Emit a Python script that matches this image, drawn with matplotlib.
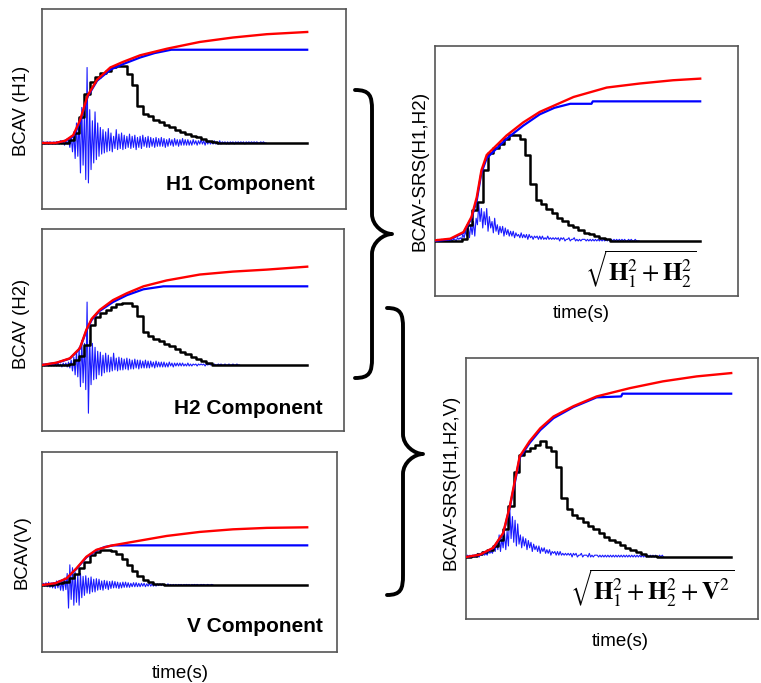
import numpy as np
import matplotlib
matplotlib.use("Agg")
import matplotlib.pyplot as plt
from matplotlib.path import Path
from matplotlib.patches import PathPatch

plt.rcParams['font.family'] = ['Liberation Sans', 'DejaVu Sans']
plt.rcParams['mathtext.fontset'] = 'stix'

# ---------------- data (normalised BCAV, time in s) ----------------
NOISE_DT = 0.2
BIN_DT = 0.8

# H1 component
h1_red_t = [0, 2.0, 3.5, 4.7, 5.7, 6.9, 8.3, 10.3, 12.2, 14.8, 18.9, 23.8, 28.8, 33.9, 40]
h1_red_v = [0, 0.0, 0.02, 0.07, 0.20, 0.43, 0.57, 0.68, 0.73, 0.79, 0.85, 0.91, 0.95, 0.98, 1.0]
h1_blue_t = [0, 2.0, 3.5, 4.7, 5.7, 6.9, 8.3, 10.3, 12.2, 14.8, 17.0, 19.5, 40]
h1_blue_v = [0, 0.0, 0.02, 0.06, 0.18, 0.42, 0.56, 0.66, 0.71, 0.77, 0.81, 0.84, 0.84]
h1_black = [0, 0, 0, 0, 0, 0.03, 0.09, 0.23, 0.44, 0.55, 0.59, 0.63, 0.65, 0.68, 0.69, 0.69,
            0.62, 0.52, 0.33, 0.26, 0.24, 0.21, 0.19, 0.16, 0.14, 0.12, 0.10, 0.08, 0.06,
            0.05, 0.04, 0.02, 0.01, 0]
h1_noise = [0, 1, -1, 0, 1, -1, 1, 0, -1, 1,
            -1, 1, 0, -1, 2, -1, 1, -2, 2, -1,
            3, -4, 6, -8, 10, -14, 18, -12, 22, -27,
            32, -20, 28, -33, 68, -36, 30, -24, 20, -18,
            28, -15, 18, -12, 14, -10, 12, -9, 10, -8,
            13, -7, 9, -8, 6, -5, 12, -6, 8, -5,
            9, -6, 7, -5, 6, -4, 8, -5, 6, -4,
            7, -6, 5, -4, 6, -5, 7, -3, 5, -4,
            6, -4, 5, -3, 4, -4, 5, -3, 4, -3,
            5, -3, 4, -4, 3, -3, 4, -2, 3, -3,
            4, -2, 3, -3, 3, -2, 4, -2, 3, -2,
            3, -2, 2, -2, 3, -1, 2, -2, 2, -1,
            3, -1, 2, -2, 2, -1, 2, -1, 1, -1,
            2, -1, 1, -1, 2, -1, 1, 0, 1, -1,
            1, -1, 1, 0, 1, -1, 1, 0, 1, 0,
            1, 0, 1, -1, 1, 0, 1, 0, 1, 0,
            1, 0, 1, 0, 0, 1, 0, 1, 0, 0]

# H2 component
h2_red_t = [0, 2.2, 4.2, 5.7, 6.7, 7.5, 8.7, 10.7, 12.8, 15.3, 18.8, 23.8, 28.8, 33.9, 40]
h2_red_v = [0, 0.024, 0.068, 0.17, 0.36, 0.47, 0.56, 0.66, 0.73, 0.80, 0.86, 0.92, 0.95, 0.97, 1.0]
h2_blue_t = [0, 2.2, 4.2, 5.7, 6.7, 7.5, 8.7, 10.7, 12.8, 15.3, 18.3, 40]
h2_blue_v = [0, 0.022, 0.065, 0.165, 0.35, 0.46, 0.55, 0.64, 0.71, 0.77, 0.80, 0.80]
h2_black = [0, 0, 0, 0, 0, 0.01, 0.05, 0.09, 0.20, 0.41, 0.49, 0.53, 0.56, 0.59, 0.62, 0.63,
            0.63, 0.60, 0.50, 0.34, 0.29, 0.26, 0.24, 0.21, 0.19, 0.16, 0.13, 0.11, 0.08,
            0.06, 0.04, 0.02, 0]
h2_noise = [0, 1, -1, 1, 0, -1, 1, -1, 1, -1,
            1, -1, 2, -1, 1, -2, 2, -1, 2, -2,
            3, -3, 5, -6, 8, -10, 14, -12, 18, -22,
            25, -18, 22, -25, 64, -49, 25, -20, 22, -15,
            18, -14, 14, -10, 13, -11, 10, -8, 12, -7,
            10, -7, 8, -6, 12, -5, 7, -6, 8, -5,
            7, -5, 6, -4, 7, -5, 6, -4, 5, -4,
            6, -3, 5, -4, 5, -3, 4, -3, 5, -3,
            4, -3, 4, -2, 3, -3, 4, -2, 3, -2,
            3, -2, 3, -2, 2, -2, 3, -1, 2, -2,
            2, -1, 2, -1, 2, -1, 2, -1, 1, -1,
            2, -1, 1, -1, 1, 0, 1, -1, 1, 0,
            1, 0, 1, -1, 1, 0, 1, 0, 1, 0,
            1, 0, 0, 1, 0, 1, 0, 0, 1, 0,
            0, 1, 0, 0, 1, 0, 0, 1, 0, 0]

# V component
v_red_t = [0, 2.0, 3.7, 5.2, 6.7, 8.2, 10.3, 13.8, 18.8, 23.8, 28.8, 33.9, 40]
v_red_v = [0, 0.03, 0.115, 0.29, 0.49, 0.61, 0.68, 0.75, 0.85, 0.92, 0.965, 0.99, 1.0]
v_blue_t = [0, 2.0, 3.7, 5.2, 6.7, 8.2, 9.5, 10.8, 40]
v_blue_v = [0, 0.03, 0.11, 0.28, 0.48, 0.60, 0.66, 0.687, 0.687]
v_black = [0, 0, 0.01, 0.03, 0.06, 0.12, 0.19, 0.29, 0.40, 0.52, 0.57, 0.60, 0.61, 0.59,
           0.53, 0.45, 0.35, 0.24, 0.15, 0.08, 0.05, 0.02, 0.01, 0]
v_noise = [0, 3, -2, 4, -3, 5, -4, 3, -5, 4,
           -6, 7, -5, 8, -9, 6, -10, 12, -8, 20,
           -40, 35, -25, 30, -35, 22, -30, 18, -35, 20,
           -22, 15, -18, 16, -14, 12, -15, 14, -12, 10,
           -12, 11, -9, 10, -8, 7, -9, 8, -6, 7,
           -8, 6, -6, 7, -5, 6, -5, 5, -6, 4,
           -5, 5, -4, 5, -4, 4, -4, 3, -3, 4,
           -3, 4, -3, 3, -3, 3, -2, 3, -3, 2,
           -2, 3, -2, 2, -2, 2, -2, 2, -1, 2,
           -1, 2, -1, 1, -1, 2, -1, 1, -1, 1,
           -1, 1, -1, 1, 0, 1, -1, 1, 0, 1,
           0, 1, -1, 1, 0, 1, 0, 1, 0, 0,
           1, 0, 1, 0, 0, 1, 0, 0, 1, 0]

# BCAV-SRS(H1,H2)
s2_red_t = [0, 2.3, 4.3, 5.5, 6.3, 7.0, 7.8, 9.3, 10.8, 13.3, 15.8, 20.9, 25.9, 30.9, 35.9, 40]
s2_red_v = [0.004, 0.014, 0.055, 0.148, 0.27, 0.435, 0.53, 0.59, 0.65, 0.73, 0.795, 0.887,
            0.945, 0.97, 0.99, 1.0]
s2_blue_t = [0, 2.3, 4.3, 5.5, 6.3, 7.0, 7.8, 9.3, 10.8, 13.3, 15.8, 18.0, 20.4, 23.6, 23.8, 40]
s2_blue_v = [0, 0.01, 0.05, 0.14, 0.25, 0.42, 0.51, 0.57, 0.63, 0.71, 0.78, 0.82, 0.845,
             0.845, 0.86, 0.86]
s2_black = [0, 0, 0, 0, 0, 0.015, 0.10, 0.19, 0.24, 0.44, 0.54, 0.57, 0.60, 0.63, 0.65, 0.655,
            0.63, 0.53, 0.35, 0.25, 0.23, 0.20, 0.17, 0.14, 0.12, 0.10, 0.086, 0.066, 0.05,
            0.04, 0.03, 0.02, 0.01, 0]
s2_noise = [0, 0, 1, 0, 0, 1, 0, 1, 0, 0,
            1, 0, 1, 0, 1, 1, 0, 2, 1, 2,
            1, 4, 2, 6, 3, 9, 2, 10, 4, 12,
            3, 14, 10, 23, 12, 20, 8, 18, 10, 20,
            6, 15, 8, 12, 5, 14, 6, 10, 4, 9,
            5, 9, 3, 8, 4, 7, 3, 6, 3, 6,
            2, 5, 3, 4, 2, 5, 2, 4, 2, 4,
            1, 4, 2, 3, 1, 3, 2, 3, 1, 3,
            1, 3, 1, 2, 1, 3, 1, 2, 1, 2,
            1, 2, 1, 2, 0, 2, 1, 2, 0, 1,
            1, 2, 0, 1, 1, 2, 0, 1, 0, 1,
            0, 1, 1, 1, 0, 1, 0, 1, 0, 1,
            0, 1, 0, 1, 0, 1, 0, 1, 0, 1,
            0, 1, 0, 1, 0, 1, 0, 1, 0, 1,
            0, 1, 0, 1, 0, 0, 1, 0, 1, 0,
            0, 1, 0, 0, 0]

# BCAV-SRS(H1,H2,V)
s3_red_t = [0, 2.1, 4.1, 5.6, 6.6, 7.4, 8.1, 9.6, 11.2, 13.2, 16.2, 19.7, 24.7, 29.7, 34.8, 40]
s3_red_v = [0, 0.013, 0.05, 0.13, 0.275, 0.42, 0.547, 0.63, 0.70, 0.764, 0.82, 0.873, 0.918,
            0.955, 0.982, 1.0]
s3_blue_t = [0, 2.1, 4.1, 5.6, 6.6, 7.4, 8.1, 9.6, 11.2, 13.2, 16.2, 19.7, 23.4, 23.6, 40]
s3_blue_v = [0, 0.012, 0.048, 0.125, 0.27, 0.41, 0.54, 0.62, 0.69, 0.755, 0.815, 0.868,
             0.873, 0.888, 0.888]
s3_black = [0, 0.005, 0.015, 0.025, 0.04, 0.06, 0.09, 0.15, 0.28, 0.46, 0.555, 0.575, 0.59,
            0.61, 0.63, 0.60, 0.575, 0.49, 0.32, 0.26, 0.23, 0.21, 0.19, 0.17, 0.15, 0.13,
            0.11, 0.095, 0.08, 0.065, 0.05, 0.04, 0.025, 0.015, 0.007, 0.003, 0.001, 0]
s3_noise = [0, 1, 0, 1, 0, 1, 0, 1, 0, 2,
            0, 2, 1, 3, 1, 2, 1, 4, 2, 3,
            2, 6, 3, 8, 4, 12, 3, 10, 5, 13,
            4, 14, 6, 27, 10, 22, 8, 20, 6, 18,
            7, 12, 5, 11, 6, 10, 4, 9, 5, 8,
            3, 7, 4, 6, 3, 6, 2, 5, 3, 5,
            2, 4, 2, 4, 1, 3, 2, 3, 1, 3,
            1, 3, 1, 2, 1, 2, 1, 2, 1, 2,
            0, 2, 1, 2, 0, 1, 1, 2, 0, 1,
            1, 1, 0, 2, 0, 1, 0, 1, 1, 1,
            0, 1, 0, 1, 0, 1, 0, 1, 0, 1,
            0, 1, 0, 1, 0, 1, 0, 1, 0, 1,
            0, 1, 0, 1, 0, 1, 0, 1, 0, 1,
            0, 1, 0, 1, 0, 1, 0, 1, 0, 1,
            0, 1, 0, 1, 0, 0, 1, 0, 1, 0]

# ---------------- figure ----------------
W, H = 761, 683
fig = plt.figure(figsize=(W / 100, H / 100), dpi=100)
fig.patch.set_facecolor('white')


def add_ax(x0, y0, x1, y1):
    return fig.add_axes([x0 / W, 1 - y1 / H, (x1 - x0) / W, (y1 - y0) / H])


PX_PER_S = 6.63


def draw_panel(box, ylim, red_t, red_v, blue_t, blue_v, black, noise, noise_scale,
               ylabel, ylab_xy, ylab_size=13.3):
    x0, y0, x1, y1 = box
    ax = add_ax(x0, y0, x1, y1)
    ax.set_xlim(0, (x1 - x0) / PX_PER_S)
    ax.set_ylim(*ylim)
    nt = np.arange(len(noise)) * NOISE_DT
    ax.plot(nt, np.array(noise) * noise_scale, color='#1a1aff', lw=0.8, zorder=2)
    bt = list(np.arange(len(black)) * BIN_DT) + [40]
    bv = list(black) + [0]
    ax.step(bt, bv, where='post', color='black', lw=1.8, zorder=3)
    ax.plot(blue_t, blue_v, color='#0000ff', lw=1.6, zorder=4)
    ax.plot(red_t, red_v, color='#ff0000', lw=1.7, zorder=5)
    ax.set_xticks([])
    ax.set_yticks([])
    for s in ax.spines.values():
        s.set_color('#555555')
        s.set_linewidth(1.2)
    ax.set_ylabel(ylabel, fontsize=ylab_size)
    lx, ly = ylab_xy
    ax.yaxis.set_label_coords(-(x0 - lx) / (x1 - x0), (y1 - ly) / (y1 - y0))
    ax.yaxis.label.set_va('center')
    return ax


ax1 = draw_panel((42, 9, 346, 209), (-0.595, 1.207), h1_red_t, h1_red_v, h1_blue_t, h1_blue_v,
                 h1_black, h1_noise, 0.01, 'BCAV (H1)', (22, 111))
ax1.text((315 - 42) / (346 - 42), (209 - 185) / 200, 'H1 Component', transform=ax1.transAxes,
         ha='right', va='center', fontsize=15, fontweight='bold')

ax2 = draw_panel((42, 229, 344, 431), (-0.671, 1.383), h2_red_t, h2_red_v, h2_blue_t, h2_blue_v,
                 h2_black, h2_noise, 0.01, 'BCAV (H2)', (22, 324))
ax2.text((323 - 42) / (344 - 42), (431 - 408) / 202, 'H2 Component', transform=ax2.transAxes,
         ha='right', va='center', fontsize=15, fontweight='bold')

ax3 = draw_panel((42, 452, 337, 652), (-1.161, 2.305), v_red_t, v_red_v, v_blue_t, v_blue_v,
                 v_black, v_noise, 0.01, 'BCAV(V)', (22, 552))
ax3.text((323 - 42) / (337 - 42), (652 - 627) / 200, 'V Component', transform=ax3.transAxes,
         ha='right', va='center', fontsize=15, fontweight='bold')
ax3.set_xlabel('time(s)', fontsize=13.5)
ax3.xaxis.set_label_coords((180 - 42) / (337 - 42), -(673 - 652) / 200)
ax3.xaxis.label.set_va('center')

ax4 = draw_panel((435, 46, 738, 296), (-0.339, 1.201), s2_red_t, s2_red_v, s2_blue_t, s2_blue_v,
                 s2_black, s2_noise, 0.01, 'BCAV-SRS(H1,H2)', (420, 171), 13.6)
ax4.text((641 - 435) / (738 - 435), (296 - 269) / 250, r'$\sqrt{\mathbf{H}_1^2+\mathbf{H}_2^2}$',
         transform=ax4.transAxes, ha='center', va='center', fontsize=18)
ax4.set_xlabel('time(s)', fontsize=13.5)
ax4.xaxis.set_label_coords((581 - 435) / (738 - 435), -(313 - 296) / 250)
ax4.xaxis.label.set_va('center')

ax5 = draw_panel((466, 358, 758, 619), (-0.337, 1.082), s3_red_t, s3_red_v, s3_blue_t, s3_blue_v,
                 s3_black, s3_noise, 0.01, 'BCAV-SRS(H1,H2,V)', (451, 482), 13.4)
ax5.text((652 - 466) / (758 - 466), (619 - 588) / 261,
         r'$\sqrt{\mathbf{H}_1^2+\mathbf{H}_2^2+\mathbf{V}^2}$',
         transform=ax5.transAxes, ha='center', va='center', fontsize=18)
ax5.set_xlabel('time(s)', fontsize=13.5)
ax5.xaxis.set_label_coords((620 - 466) / (758 - 466), -(641 - 619) / 261)
ax5.xaxis.label.set_va('center')

# ---------------- curly braces ----------------
ov = fig.add_axes([0, 0, 1, 1], zorder=10)
ov.set_xlim(0, W)
ov.set_ylim(H, 0)
ov.axis('off')
ov.patch.set_alpha(0)


def brace(x_end, x_mid, x_tip, y_top, y_tip, y_bot):
    r = 20
    verts = [(x_end, y_top),
             (x_mid - 2, y_top), (x_mid, y_top + 6), (x_mid, y_top + r),
             (x_mid, y_tip - r),
             (x_mid, y_tip - 8), (x_tip - 8, y_tip), (x_tip, y_tip),
             (x_tip - 8, y_tip), (x_mid, y_tip + 8), (x_mid, y_tip + r),
             (x_mid, y_bot - r),
             (x_mid, y_bot - 6), (x_mid - 2, y_bot), (x_end, y_bot)]
    codes = [Path.MOVETO,
             Path.CURVE4, Path.CURVE4, Path.CURVE4,
             Path.LINETO,
             Path.CURVE4, Path.CURVE4, Path.CURVE4,
             Path.CURVE4, Path.CURVE4, Path.CURVE4,
             Path.LINETO,
             Path.CURVE4, Path.CURVE4, Path.CURVE4]
    ov.add_patch(PathPatch(Path(verts, codes), fill=False, lw=2.8, ec='black',
                           capstyle='round', joinstyle='round'))


brace(355, 372, 392, 90, 234, 378)
brace(387, 403, 423, 308, 454, 595)

fig.savefig('out.png', dpi=100, facecolor='white')
